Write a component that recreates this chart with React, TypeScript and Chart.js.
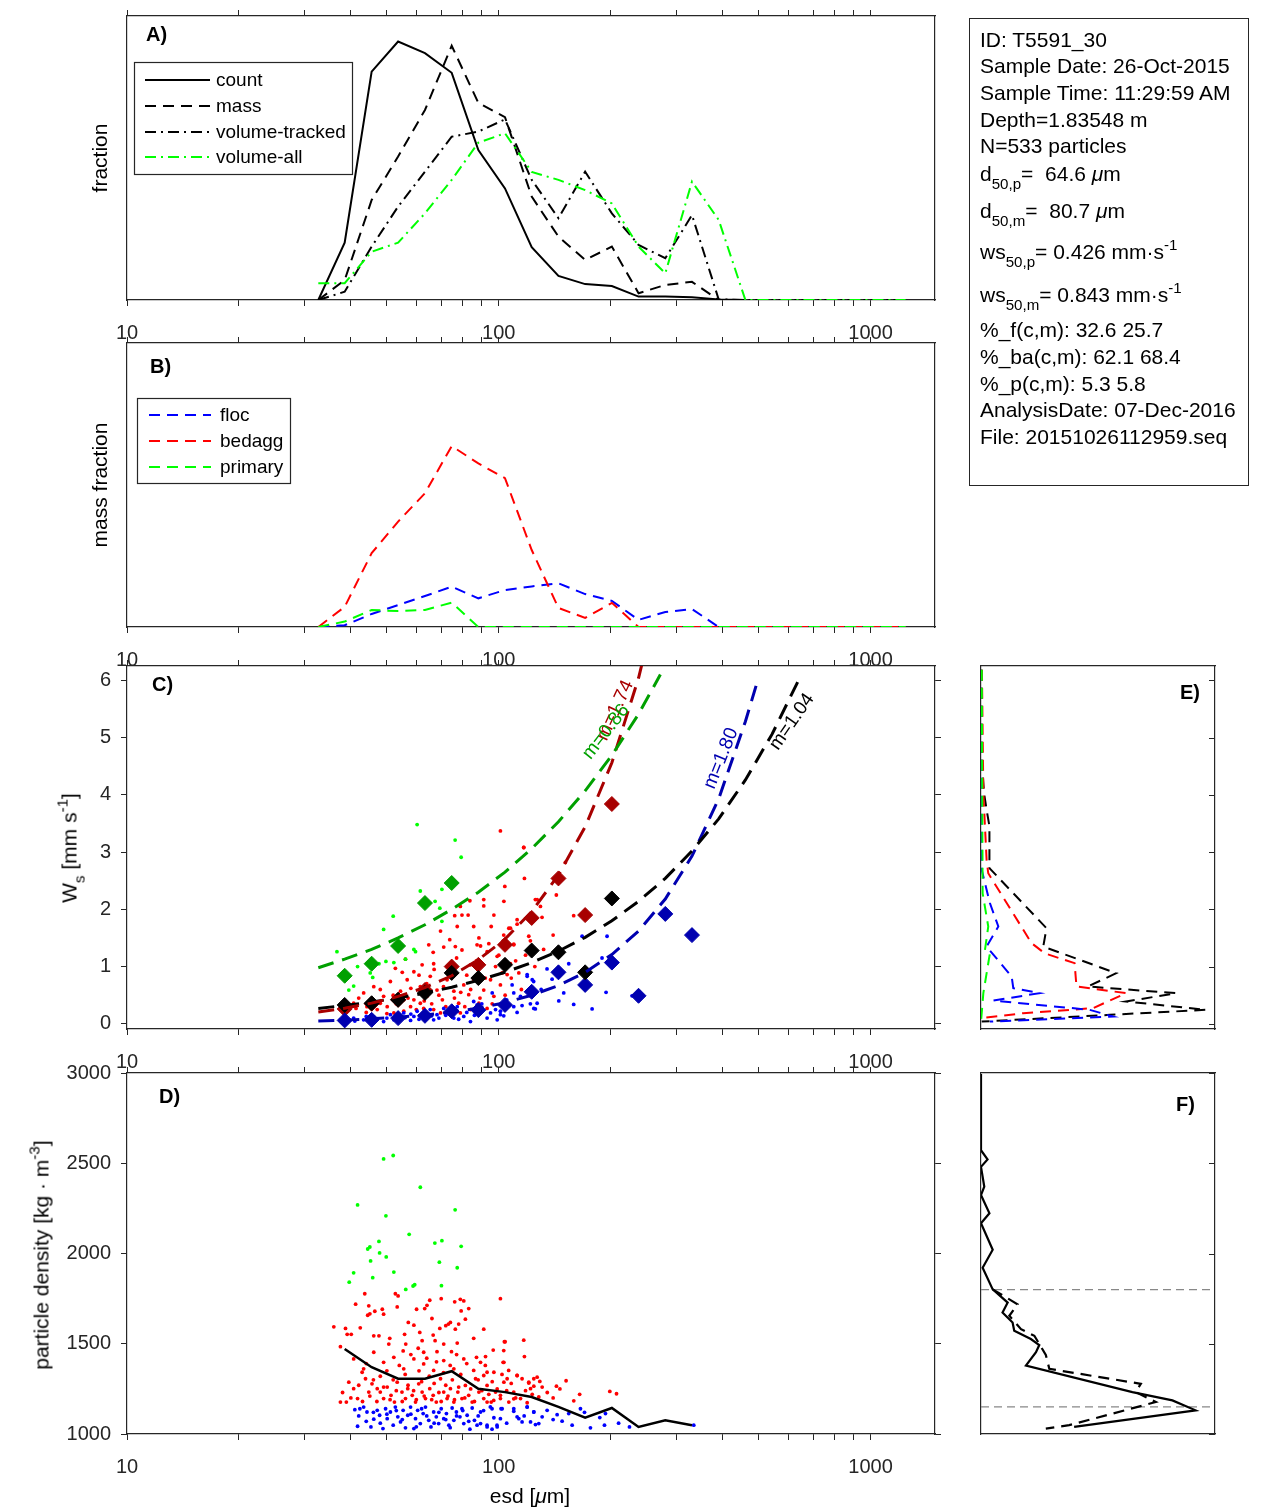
import React, { useEffect, useRef } from "react";
import { Chart, registerables } from "chart.js";

Chart.register(...registerables);

const W = 1270;
const H = 1511;
const FONT = "'Liberation Sans', Arial, Helvetica, sans-serif";
const AX = "#262626";
const C_RED = "#A80000";
const C_GREEN = "#00A000";
const C_BLUE = "#0000B0";

// ---------- axes ----------
const xMin = 10;
const xMax = 1490;
const xTickValues = [10, 20, 30, 40, 50, 60, 70, 80, 90, 100, 200, 300, 400, 500, 600, 700, 800, 900, 1000];
const xLabeledTicks = [10, 100, 1000];
const wsTicks = [0, 1, 2, 3, 4, 5, 6];
const wsMin = -0.09;
const wsMax = 6.25;
const densTicks = [1000, 1500, 2000, 2500, 3000];
const densMin = 1000;
const densMax = 3000;

// ---------- Panels A / B : size-bin distributions ----------
const binEsd = [32.7, 38.5, 45.5, 53.6, 63.3, 74.7, 88.1, 103.9, 122.6, 144.7, 170.7, 201.4, 237.6, 280.4, 330.8, 390.3, 460.5, 543.3, 641.0, 756.3, 892.3, 1052.7, 1242];
const countFrac = [0, 0.202, 0.804, 0.91, 0.869, 0.8, 0.528, 0.393, 0.186, 0.085, 0.056, 0.049, 0.012, 0.012, 0.01, 0.002, 0];
const massFrac = [0, 0.07, 0.352, 0.505, 0.669, 0.895, 0.694, 0.644, 0.364, 0.223, 0.141, 0.188, 0.024, 0.053, 0.064, 0];
const volTrackedFrac = [0, 0.029, 0.188, 0.329, 0.452, 0.575, 0.593, 0.636, 0.423, 0.288, 0.452, 0.305, 0.194, 0.147, 0.299, 0.002, 0, 0, 0, 0, 0, 0, 0];
const volAllFrac = [0.059, 0.059, 0.17, 0.202, 0.305, 0.423, 0.554, 0.587, 0.451, 0.423, 0.387, 0.34, 0.188, 0.094, 0.417, 0.282, 0, 0, 0, 0, 0, 0, 0];
const flocMassFrac = [0, 0.006, 0.046, 0.077, 0.109, 0.142, 0.101, 0.13, 0.143, 0.154, 0.116, 0.092, 0.025, 0.053, 0.063, 0, 0, 0, 0, 0, 0, 0, 0];
const bedaggMassFrac = [0, 0.071, 0.26, 0.371, 0.471, 0.637, 0.576, 0.524, 0.271, 0.067, 0.032, 0.085, 0, 0, 0, 0, 0, 0, 0, 0, 0, 0, 0];
const primaryMassFrac = [0, 0.019, 0.06, 0.056, 0.06, 0.086, 0, 0, 0, 0, 0, 0, 0, 0, 0, 0, 0, 0, 0, 0, 0, 0, 0];

// ---------- Panel C : settling velocity ----------
const wsFlocBinMean = [0.06, 0.07, 0.1, 0.14, 0.22, 0.24, 0.33, 0.56, 0.9, 0.68, 1.07, 0.49, 1.92, 1.55];
const wsBedaggBinMean = [0.26, 0.35, 0.42, 0.59, 1.0, 1.03, 1.38, 1.85, 2.54, 1.9, 3.84];
const wsAllBinMean = [0.33, 0.36, 0.42, 0.54, 0.89, 0.8, 1.03, 1.28, 1.25, 0.9, 2.19];
const wsPrimaryBinMean = [0.84, 1.05, 1.36, 2.11, 2.46];

const fitFlocWs = [0.05, 0.065, 0.087, 0.115, 0.155, 0.205, 0.275, 0.37, 0.5, 0.67, 0.9, 1.21, 1.62, 2.18, 2.93, 3.93, 5.28];
const fitFlocEnd = [497, 6.0];
const fitBedaggWs = [0.206, 0.273, 0.362, 0.479, 0.635, 0.84, 1.12, 1.48, 1.96, 2.6, 3.44, 4.56, 6.04];
const fitBedaggEnd = [243, 6.3];
const fitAllWs = [0.27, 0.321, 0.381, 0.453, 0.538, 0.639, 0.759, 0.902, 1.07, 1.27, 1.51, 1.8, 2.14, 2.54, 3.02, 3.58, 4.26, 5.06, 6.01];
const fitAllEnd = [648, 6.07];
const fitPrimaryWs = [0.98, 1.13, 1.3, 1.5, 1.73, 2.0, 2.3, 2.65, 3.06, 3.53, 4.07, 4.69, 5.41];
const fitPrimaryEnd = [272, 6.1];

const cGreenDots = [[36.7, 1.26], [39.5, 0.59], [40.7, 0.66], [41.7, 1.0], [45.1, 0.89], [45.8, 0.81], [49.0, 1.65], [52.0, 1.88], [49.7, 1.09], [52.2, 1.07], [56.1, 1.13], [59.1, 1.3], [59.7, 1.26], [60.3, 3.48], [61.5, 2.32], [67.4, 2.14], [69.4, 2.02], [70.3, 2.35], [70.3, 1.79], [76.3, 3.21], [79.2, 2.91], [47.6, 1.05], [44.7, 1.03]];
const cRedDots = [
  [101.0, 3.37], [116.7, 3.08], [117.2, 2.54], [103.8, 2.4], [103.2, 2.14], [91.1, 2.17], [91.1, 2.06], [83.6, 2.15], [78.8, 2.05], [79.6, 1.9], [76.1, 1.89], [82.7, 1.9], [97.0, 1.9], [77.3, 1.7], [85.6, 1.7], [95.4, 1.7], [106.4, 1.67], [112.0, 1.74], [69.7, 1.62], [73.8, 1.47], [76.4, 1.35], [88.4, 1.5], [87.4, 1.38], [89.3, 1.36], [93.0, 1.26], [99.0, 1.18], [109.7, 1.38], [120.4, 1.53], [126.8, 2.17], [64.8, 1.38], [66.6, 1.25], [71.1, 1.34], [79.6, 1.29], [56.1, 1.13], [52.7, 0.97], [59.1, 0.91], [62.2, 1.03], [66.8, 1.05], [83.9, 1.03], [98.0, 1.0], [102.1, 0.89], [113.2, 0.89], [107.5, 1.05],
  [40.7, 0.36], [43.3, 0.54], [46.1, 0.65], [49.0, 0.48], [51.1, 0.74], [54.4, 0.57], [56.7, 0.77], [57.9, 0.3], [61.5, 0.65], [64.1, 0.48], [65.4, 0.83], [68.2, 0.59], [70.5, 0.42], [72.6, 0.77], [75.7, 0.57], [78.0, 0.36], [80.5, 0.68], [83.0, 0.51], [85.6, 0.77], [88.4, 0.36], [91.1, 0.59], [95.0, 0.77], [97.0, 0.48], [101.0, 0.68], [105.3, 0.86], [44.2, 0.3], [47.1, 0.25], [50.1, 0.3], [52.2, 0.19], [55.5, 0.22], [59.1, 0.42], [62.8, 0.27], [66.8, 0.25], [74.1, 0.27], [78.8, 0.19], [83.9, 0.25], [48.0, 0.36], [41.3, 0.27], [39.1, 0.33], [55.5, 0.42], [61.5, 0.36], [69.7, 0.19], [93.0, 0.27],
  [116.7, 3.08], [129.4, 2.05], [130.7, 1.86], [125.4, 2.17], [151.0, 2.82], [142.8, 2.25], [159.0, 1.89], [121.6, 1.45], [109.7, 1.39], [107.5, 1.67], [103.1, 1.55], [112.0, 1.82],
  [42, 0.45], [44, 0.2], [46, 0.4], [48, 0.6], [50, 0.18], [52, 0.5], [53, 0.35], [55, 0.9], [57, 0.45], [58, 0.62], [60, 0.25], [61, 0.85], [63, 0.4], [64, 0.7], [66, 0.35], [67, 0.95], [69, 0.5], [71, 0.65], [72, 0.3], [74, 0.9], [76, 0.45], [77, 1.15], [79, 0.55], [81, 0.3], [82, 0.85], [84, 0.6], [87, 1.1], [89, 0.45], [92, 0.8], [94, 1.4], [96, 0.35], [100, 1.2], [104, 0.5], [108, 0.8], [111, 1.1], [115, 0.6], [118, 1.2], [125, 1.0], [132, 1.3], [140, 1.55]
];
const cBlueDots = [
  [37.5, 0.07], [40.7, 0.1], [43.3, 0.07], [46.1, 0.12], [49.0, 0.04], [51.1, 0.16], [53.3, 0.08], [55.5, 0.19], [57.9, 0.06], [60.3, 0.22], [62.8, 0.12], [65.4, 0.25], [68.2, 0.16], [71.1, 0.27], [74.1, 0.19], [77.3, 0.3], [80.5, 0.13], [83.9, 0.04], [85.6, 0.39], [89.3, 0.25], [93.0, 0.1], [96.0, 0.54], [99.0, 0.07], [101.0, 0.16], [108.6, 0.68], [109.7, 0.3], [114.4, 0.48], [119.2, 0.86], [124.2, 0.27], [123.0, 0.77], [126.8, 0.36], [46.1, 0.04], [59.1, 0.13], [66.8, 0.07], [75.7, 0.1], [52.2, 0.07], [87.4, 0.33], [95.0, 0.19],
  [167.5, 1.53], [195.5, 1.53], [154.2, 1.05], [189.5, 1.15], [134.8, 0.96], [119.2, 0.83], [124.1, 0.74], [139.1, 0.78], [149.5, 0.54], [109.7, 0.54], [194.3, 0.55], [228.2, 0.49], [159.0, 0.34], [178.2, 0.26], [125.4, 0.26], [115.5, 0.32], [121.6, 0.35], [103.1, 0.14], [101.0, 0.22],
  [41, 0.05], [44, 0.13], [47, 0.09], [50, 0.1], [53, 0.14], [56, 0.11], [58, 0.17], [61, 0.08], [63, 0.2], [66, 0.14], [69, 0.1], [72, 0.15], [75, 0.24], [78, 0.08], [82, 0.2], [86, 0.15], [90, 0.35], [98, 0.25], [105, 0.42], [112, 0.2], [130, 0.6], [145, 0.4], [170, 0.7]
];

// ---------- Panel D : particle density ----------
const dGreenDots = [[49.0, 2524], [52.0, 2543], [61.5, 2367], [41.7, 2269], [49.7, 2209], [76.3, 2242], [57.4, 2106], [45.0, 2036], [44.4, 2025], [47.6, 2067], [67.3, 2058], [70.3, 2071], [79.2, 2040], [47.8, 2003], [49.8, 1981], [45.2, 1959], [69.2, 1952], [40.7, 1893], [77.3, 1921], [45.8, 1866], [52.2, 1897], [39.6, 1841], [59.4, 1827], [58.8, 1820], [56.2, 1801], [70.1, 1822]];
const dRedDots = [
  [36.0, 1594], [37.5, 1484], [38.7, 1585], [39.1, 1552], [40.1, 1552], [41.2, 1719], [42.4, 1588], [43.6, 1777], [44.4, 1658], [44.7, 1710], [45.0, 1666], [46.4, 1680], [46.1, 1544], [47.6, 1544], [48.6, 1691], [49.0, 1664], [50.6, 1498], [50.9, 1530], [52.7, 1777], [53.6, 1765], [53.3, 1704], [55.3, 1460], [55.8, 1552], [56.2, 1498], [57.1, 1618], [59.1, 1603], [60.1, 1691], [60.7, 1475], [61.3, 1563], [62.2, 1517], [62.8, 1388], [63.2, 1695], [64.1, 1713], [65.2, 1741], [66.1, 1640], [66.6, 1548], [67.4, 1517], [68.2, 1456], [69.4, 1585], [70.0, 1750], [71.1, 1498], [72.0, 1600], [73.2, 1609], [74.1, 1618], [74.6, 1456], [76.1, 1732], [76.4, 1581], [77.3, 1504], [78.0, 1609], [78.8, 1746], [79.2, 1682], [80.5, 1737], [81.3, 1636], [83.0, 1695], [85.6, 1530], [87.1, 1425], [89.3, 1397], [91.1, 1581], [92.1, 1429], [93.0, 1342], [96.6, 1465], [101.0, 1750], [103.2, 1397], [104.0, 1511], [116.7, 1520], [117.2, 1429], [120.4, 1287], [126.8, 1315],
  [37.5, 1177], [38.9, 1177], [39.5, 1287], [40.7, 1251], [41.7, 1196], [42.9, 1342], [43.8, 1306], [44.7, 1232], [45.6, 1278], [47.1, 1251], [48.0, 1232], [49.0, 1196], [50.1, 1260], [51.3, 1214], [52.4, 1177], [53.3, 1287], [54.9, 1232], [56.1, 1196], [56.9, 1251], [58.5, 1214], [59.7, 1177], [60.9, 1278], [62.2, 1232], [63.5, 1196], [65.2, 1251], [66.6, 1214], [67.9, 1177], [69.7, 1306], [71.1, 1232], [72.6, 1196], [74.1, 1251], [75.7, 1177], [77.6, 1232], [79.6, 1196], [81.3, 1269], [83.0, 1214], [84.8, 1177], [86.6, 1306], [88.4, 1232], [91.1, 1196], [93.0, 1269], [95.4, 1177], [98.0, 1232], [101.0, 1196], [103.2, 1287], [106.4, 1177], [109.7, 1232], [114.4, 1196], [121.7, 1251], [128.1, 1205],
  [40.7, 1416], [43.3, 1361], [46.1, 1453], [49.0, 1397], [52.2, 1425], [55.5, 1361], [59.1, 1416], [62.8, 1453], [66.8, 1352], [71.1, 1407], [75.7, 1361], [80.5, 1416], [85.6, 1352], [91.1, 1324], [97.0, 1342], [105.3, 1306], [112.0, 1324], [124.2, 1306],
  [103.5, 1511], [103.1, 1462], [102.7, 1397], [106.3, 1352], [112.0, 1324], [115.5, 1306], [120.4, 1282], [124.2, 1265], [128.9, 1291], [130.8, 1260], [142.9, 1265], [151.7, 1295], [159.1, 1184], [198.9, 1236], [207.3, 1223], [119.2, 1173], [109.7, 1195], [101.0, 1214], [96.9, 1186], [93.0, 1177],
  [38, 1230], [40, 1200], [42, 1270], [43, 1180], [44, 1390], [45, 1210], [46, 1300], [47, 1180], [48, 1320], [49, 1260], [50, 1350], [51, 1190], [52, 1300], [53, 1240], [54, 1380], [55, 1180], [56, 1330], [57, 1270], [58, 1440], [59, 1240], [60, 1190], [61, 1350], [62, 1290], [63, 1210], [64, 1420], [65, 1320], [66, 1190], [67, 1280], [68, 1400], [69, 1230], [70, 1180], [71, 1340], [72, 1270], [73, 1210], [74, 1380], [75, 1300], [76, 1190], [77, 1440], [78, 1260], [79, 1330], [81, 1200], [82, 1390], [84, 1250], [86, 1180], [88, 1300], [90, 1240], [92, 1380], [94, 1220], [96, 1290], [99, 1250], [102, 1330], [105, 1240], [108, 1280], [111, 1200], [118, 1240], [123, 1220], [135, 1230], [140, 1200], [146, 1250], [165, 1220]
];
const dBlueDots = [
  [41.7, 1043], [41.0, 1135], [42.3, 1140], [43.3, 1149], [44.2, 1122], [45.3, 1039], [46.1, 1082], [47.1, 1131], [47.8, 1104], [48.8, 1030], [49.6, 1140], [50.1, 1085], [51.1, 1122], [52.0, 1049], [52.7, 1149], [53.5, 1095], [54.4, 1067], [55.3, 1131], [56.1, 1034], [56.9, 1104], [57.9, 1149], [59.1, 1030], [59.7, 1085], [60.5, 1131], [61.5, 1058], [62.6, 1113], [63.5, 1149], [64.8, 1076], [65.7, 1039], [66.8, 1122], [67.9, 1095], [68.9, 1058], [70.0, 1140], [71.1, 1085], [72.3, 1113], [73.4, 1049], [74.9, 1144], [75.7, 1076], [76.9, 1122], [78.6, 1095], [79.6, 1140], [80.5, 1058], [82.2, 1104], [83.6, 1027], [84.8, 1144], [86.0, 1076], [87.4, 1049], [89.3, 1122], [93.0, 1049], [95.9, 1140], [99.0, 1039], [101.0, 1085], [102.1, 1140], [109.7, 1126], [113.2, 1085], [119.2, 1149], [124.2, 1122], [128.1, 1058],
  [94.9, 1150], [101.4, 1140], [109.7, 1140], [119.2, 1150], [124.2, 1122], [134.9, 1131], [143.5, 1107], [154.2, 1113], [165.8, 1140], [176.4, 1034], [186.9, 1091], [192.4, 1049], [193.6, 1113], [224.6, 1039], [334.5, 1049], [89.3, 1058], [93.0, 1039], [95.9, 1027], [98.9, 1049], [112.0, 1095], [121.7, 1067], [130.8, 1095], [148.0, 1071], [157.5, 1049], [115.5, 1067], [125.5, 1052],
  [42, 1100], [44, 1070], [46, 1120], [48, 1060], [50, 1110], [53, 1130], [55, 1080], [58, 1110], [60, 1040], [62, 1140], [64, 1100], [67, 1060], [69, 1120], [72, 1080], [74, 1035], [77, 1100], [80, 1130], [83, 1070], [88, 1100], [91, 1130], [97, 1090], [105, 1060], [117, 1100], [140, 1080], [170, 1120], [210, 1060]
];
const densBinMean = [1471, 1370, 1306, 1306, 1348, 1251, 1232, 1205, 1150, 1091, 1144, 1039, 1076, 1049];

// ---------- Panel E : Ws distributions (fraction, Ws) ----------
const eAll = [[0.003, 6.5], [0.003, 4.61], [0.013, 4.03], [0.024, 3.74], [0.036, 3.45], [0.036, 2.92], [0.036, 2.72], [0.28, 1.67], [0.266, 1.35], [0.578, 0.885], [0.457, 0.652], [0.834, 0.536], [0.62, 0.39], [0.962, 0.245], [0.55, 0.157], [0.003, 0.04]];
const eBedagg = [[0.003, 6.5], [0.01, 4.03], [0.024, 2.86], [0.031, 2.63], [0.216, 1.41], [0.273, 1.23], [0.4, 1.06], [0.408, 0.652], [0.62, 0.536], [0.479, 0.274], [0.18, 0.186], [0.003, 0.1]];
const eFloc = [[0.0, 6.5], [0.003, 2.69], [0.038, 2.11], [0.074, 1.7], [0.024, 1.35], [0.131, 0.827], [0.138, 0.623], [0.251, 0.536], [0.053, 0.407], [0.464, 0.245], [0.564, 0.128], [0.038, 0.04]];
const ePrimary = [[0.003, 6.5], [0.007, 2.28], [0.031, 1.7], [0.017, 1.29], [0.038, 1.23], [0.01, 0.536], [0.0, 0.04]];

// ---------- Panel F : density distributions (fraction, density) ----------
const fCount = [[0, 2994], [0, 2572], [0.028, 2521], [0, 2480], [0.014, 2370], [0, 2324], [0.036, 2223], [0, 2168], [0.05, 2021], [0.007, 1921], [0.05, 1801], [0.114, 1728], [0.092, 1673], [0.135, 1618], [0.142, 1572], [0.213, 1526], [0.249, 1493], [0.235, 1453], [0.192, 1379], [0.647, 1232], [0.818, 1186], [0.917, 1131], [0.398, 1039]];
const fMass = [[0.05, 1801], [0.156, 1719], [0.121, 1655], [0.171, 1581], [0.228, 1544], [0.277, 1438], [0.292, 1361], [0.683, 1278], [0.661, 1232], [0.747, 1177], [0.377, 1049], [0.277, 1030]];
const fThresholds = [1150, 1800];

// ---------- helpers ----------
const AXL = 90, AXR = 10, AXT = 10, AXB = 55;
type Box = { l: number; t: number; r: number; b: number };
const boxA: Box = { l: 127, t: 16, r: 935, b: 300 };
const boxB: Box = { l: 127, t: 343, r: 935, b: 627 };
const boxC: Box = { l: 127, t: 666, r: 935, b: 1029 };
const boxD: Box = { l: 127, t: 1073, r: 935, b: 1434 };
const boxE: Box = { l: 981, t: 666, r: 1215, b: 1029 };
const boxF: Box = { l: 981, t: 1073, r: 1215, b: 1434 };

const pts = (xs: number[], ys: number[]) => ys.map((y, i) => ({ x: xs[i], y }));
const pairs = (a: number[][]) => a.map(([x, y]) => ({ x, y }));
const border = { display: true, color: AX, width: 1.2 };
const tickFont = { family: FONT, size: 20 };
const grid = (ticks: boolean) => ({ display: true, drawOnChartArea: false, drawTicks: ticks, tickLength: 6, color: AX, tickColor: AX, tickWidth: 1 });

function logX(position: "top" | "bottom", ticks: boolean, labels: boolean) {
  return {
    type: "logarithmic", axis: "x", position, min: xMin, max: xMax,
    afterFit: (s: any) => { s.height = position === "top" ? AXT : AXB; },
    afterBuildTicks: (s: any) => { s.ticks = xTickValues.map((v) => ({ value: v })); },
    grid: grid(ticks), border,
    ticks: {
      display: labels, autoSkip: false, maxRotation: 0, minRotation: 0, padding: 15, color: AX, font: tickFont,
      callback: (v: any) => (xLabeledTicks.includes(Number(v)) ? String(v) : ""),
    },
  };
}
function linX(position: "top" | "bottom") {
  return {
    type: "linear", axis: "x", position, min: 0, max: 1,
    afterFit: (s: any) => { s.height = position === "top" ? AXT : AXB; },
    grid: grid(false), border, ticks: { display: false },
  };
}
function linY(position: "left" | "right", min: number, max: number, tickVals: number[] | null, labels: boolean) {
  return {
    type: "linear", axis: "y", position, min, max,
    afterFit: (s: any) => { s.width = position === "left" ? AXL : AXR; },
    afterBuildTicks: (s: any) => { s.ticks = (tickVals || []).map((v) => ({ value: v })); },
    grid: grid(!!tickVals), border,
    ticks: { display: labels, padding: 10, color: AX, font: tickFont, includeBounds: false, callback: (v: any) => String(v) },
  };
}
function baseOptions(box: Box, scales: any) {
  return {
    responsive: false, animation: false, events: [],
    layout: { padding: { left: box.l - AXL, right: W - box.r - AXR, top: box.t - AXT, bottom: H - box.b - AXB } },
    plugins: { legend: { display: false }, tooltip: { enabled: false }, title: { display: false } },
    scales,
  };
}
const lineDs = (data: any[], color: string, dash: number[], width = 2, order = 1) => ({
  data, showLine: true, borderColor: color, backgroundColor: color, borderWidth: width, borderDash: dash,
  pointRadius: 0, fill: false, tension: 0, order, borderCapStyle: "butt", borderJoinStyle: "miter",
});
const dotDs = (data: any[], color: string, order = 5) => ({
  data, showLine: false, pointRadius: 1.9, pointBackgroundColor: color, pointBorderWidth: 0, pointBorderColor: color, order,
});
const diamondDs = (data: any[], color: string, order = 3) => ({
  data, showLine: false, pointStyle: "rectRot", pointRadius: 7.5, pointBackgroundColor: color, pointBorderColor: color, pointBorderWidth: 1, order,
});

const DASH = [11, 7];
const DASHDOT = [11, 5, 2, 5];

function legendPlugin(id: string, cfg: any) {
  return {
    id,
    afterDraw(chart: any) {
      const ctx = chart.ctx;
      ctx.save();
      ctx.fillStyle = "#fff";
      ctx.fillRect(cfg.x0, cfg.y0, cfg.x1 - cfg.x0, cfg.y1 - cfg.y0);
      ctx.strokeStyle = AX; ctx.lineWidth = 1.2; ctx.setLineDash([]);
      ctx.strokeRect(cfg.x0 + 0.5, cfg.y0 + 0.5, cfg.x1 - cfg.x0, cfg.y1 - cfg.y0);
      cfg.items.forEach((it: any, i: number) => {
        const y = cfg.rows[i];
        ctx.strokeStyle = it.color; ctx.lineWidth = 2; ctx.setLineDash(it.dash);
        ctx.beginPath(); ctx.moveTo(cfg.lx0, y); ctx.lineTo(cfg.lx1, y); ctx.stroke();
        ctx.setLineDash([]);
        ctx.fillStyle = "#000"; ctx.font = `19px ${FONT}`; ctx.textBaseline = "middle"; ctx.textAlign = "left";
        ctx.fillText(it.label, cfg.tx, y + 1);
      });
      ctx.restore();
    },
  };
}
const innerTicks = (vals: number[]) => ({
  id: "innerTicks",
  afterDraw(chart: any) {
    const { ctx, chartArea } = chart;
    const s = chart.scales.y;
    ctx.save(); ctx.strokeStyle = AX; ctx.lineWidth = 1;
    vals.forEach((v) => {
      const y = Math.round(s.getPixelForValue(v)) + 0.5;
      ctx.beginPath(); ctx.moveTo(chartArea.right, y); ctx.lineTo(chartArea.right - 6, y); ctx.stroke();
    });
    ctx.restore();
  },
});

// ---------- chart configs ----------
const makeA = () => ({
  type: "scatter",
  data: {
    datasets: [
      lineDs(pts(binEsd, volAllFrac), "#00FF00", DASHDOT, 2, 0),
      lineDs(pts(binEsd, countFrac), "#000", [], 2, 1),
      lineDs(pts(binEsd, massFrac), "#000", DASH, 2, 2),
      lineDs(pts(binEsd, volTrackedFrac), "#000", DASHDOT, 2, 3),
    ],
  },
  options: baseOptions(boxA, {
    x: logX("bottom", true, true), x2: logX("top", true, false),
    y: linY("left", 0, 1, null, false), y2: linY("right", 0, 1, null, false),
  }),
  plugins: [legendPlugin("legA", {
    x0: 134, y0: 62, x1: 352, y1: 174, lx0: 145, lx1: 210, tx: 216, rows: [80, 106, 132, 157],
    items: [
      { label: "count", color: "#000", dash: [] },
      { label: "mass", color: "#000", dash: DASH },
      { label: "volume-tracked", color: "#000", dash: DASHDOT },
      { label: "volume-all", color: "#00FF00", dash: DASHDOT },
    ],
  })],
});

const makeB = () => ({
  type: "scatter",
  data: {
    datasets: [
      lineDs(pts(binEsd, flocMassFrac), "#0000FF", DASH, 2, 2),
      lineDs(pts(binEsd, bedaggMassFrac), "#FF0000", DASH, 2, 1),
      lineDs(pts(binEsd, primaryMassFrac), "#00FF00", DASH, 2, 0),
    ],
  },
  options: baseOptions(boxB, {
    x: logX("bottom", true, true), x2: logX("top", true, false),
    y: linY("left", 0, 1, null, false), y2: linY("right", 0, 1, null, false),
  }),
  plugins: [legendPlugin("legB", {
    x0: 137, y0: 398, x1: 290, y1: 483, lx0: 149, lx1: 211, tx: 220, rows: [415, 441, 467],
    items: [
      { label: "floc", color: "#0000FF", dash: DASH },
      { label: "bedagg", color: "#FF0000", dash: DASH },
      { label: "primary", color: "#00FF00", dash: DASH },
    ],
  })],
});

const fitDash = [16, 9];
const makeC = () => ({
  type: "scatter",
  data: {
    datasets: [
      dotDs(pairs(cRedDots), "#FF0000", 7),
      dotDs(pairs(cBlueDots), "#0000FF", 6),
      dotDs(pairs(cGreenDots), "#00FF00", 5),
      diamondDs(pts(binEsd.slice(1), wsPrimaryBinMean), C_GREEN, 4),
      diamondDs(pts(binEsd.slice(1), wsBedaggBinMean), C_RED, 4),
      diamondDs(pts(binEsd.slice(1), wsAllBinMean), "#000", 3),
      diamondDs(pts(binEsd.slice(1), wsFlocBinMean), C_BLUE, 3),
      lineDs([...pts(binEsd, fitPrimaryWs), { x: fitPrimaryEnd[0], y: fitPrimaryEnd[1] }], C_GREEN, fitDash, 3, 1),
      lineDs([...pts(binEsd, fitBedaggWs), { x: fitBedaggEnd[0], y: fitBedaggEnd[1] }], C_RED, fitDash, 3, 1),
      lineDs([...pts(binEsd, fitAllWs), { x: fitAllEnd[0], y: fitAllEnd[1] }], "#000", fitDash, 3, 1),
      lineDs([...pts(binEsd, fitFlocWs), { x: fitFlocEnd[0], y: fitFlocEnd[1] }], C_BLUE, fitDash, 3, 1),
    ],
  },
  options: baseOptions(boxC, {
    x: logX("bottom", true, true), x2: logX("top", true, false),
    y: linY("left", wsMin, wsMax, wsTicks, true), y2: linY("right", wsMin, wsMax, wsTicks, false),
  }),
});

const makeD = () => ({
  type: "scatter",
  data: {
    datasets: [
      dotDs(pairs(dRedDots), "#FF0000", 7),
      dotDs(pairs(dBlueDots), "#0000FF", 6),
      dotDs(pairs(dGreenDots), "#00FF00", 5),
      lineDs(pts(binEsd.slice(1), densBinMean), "#000", [], 2.5, 1),
    ],
  },
  options: baseOptions(boxD, {
    x: logX("bottom", true, true), x2: logX("top", true, false),
    y: linY("left", densMin, densMax, densTicks, true), y2: linY("right", densMin, densMax, densTicks, false),
  }),
});

const makeE = () => ({
  type: "scatter",
  data: {
    datasets: [
      lineDs(pairs(ePrimary), "#00FF00", DASH, 2, 0),
      lineDs(pairs(eFloc), "#0000FF", DASH, 2, 1),
      lineDs(pairs(eBedagg), "#FF0000", DASH, 2, 2),
      lineDs(pairs(eAll), "#000", DASH, 2, 3),
    ],
  },
  options: baseOptions(boxE, {
    x: linX("bottom"), x2: linX("top"),
    y: linY("left", wsMin, wsMax, null, false), y2: linY("right", wsMin, wsMax, null, false),
  }),
  plugins: [innerTicks(wsTicks)],
});

const makeF = () => ({
  type: "scatter",
  data: {
    datasets: [
      lineDs(pairs(fCount), "#000", [], 2.2, 1),
      lineDs(pairs(fMass), "#000", DASH, 2.2, 2),
      ...fThresholds.map((v) => lineDs([{ x: 0, y: v }, { x: 1, y: v }], "#888", [8, 5], 1.2, 3)),
    ],
  },
  options: baseOptions(boxF, {
    x: linX("bottom"), x2: linX("top"),
    y: linY("left", densMin, densMax, null, false), y2: linY("right", densMin, densMax, null, false),
  }),
  plugins: [innerTicks(densTicks)],
});

function ChartCanvas({ make }: { make: () => any }) {
  const ref = useRef<HTMLCanvasElement>(null);
  useEffect(() => {
    const chart = new Chart(ref.current as HTMLCanvasElement, make());
    return () => chart.destroy();
  }, []);
  return (
    <canvas ref={ref} width={W} height={H}
      style={{ position: "absolute", left: 0, top: 0, width: W, height: H, pointerEvents: "none" }} />
  );
}

// ---------- text ----------
type Seg = { t: string; sub?: boolean; sup?: boolean; it?: boolean };
const infoRows: { y: number; parts: Seg[] }[] = [
  { y: 39.3, parts: [{ t: "ID: T5591_30" }] },
  { y: 66, parts: [{ t: "Sample Date: 26-Oct-2015" }] },
  { y: 92.7, parts: [{ t: "Sample Time: 11:29:59 AM" }] },
  { y: 119.3, parts: [{ t: "Depth=1.83548 m" }] },
  { y: 146, parts: [{ t: "N=533 particles" }] },
  { y: 173.7, parts: [{ t: "d" }, { t: "50,p", sub: true }, { t: "=  64.6 " }, { t: "μ", it: true }, { t: "m" }] },
  { y: 210.3, parts: [{ t: "d" }, { t: "50,m", sub: true }, { t: "=  80.7 " }, { t: "μ", it: true }, { t: "m" }] },
  { y: 251.7, parts: [{ t: "ws" }, { t: "50,p", sub: true }, { t: "= 0.426 mm·s" }, { t: "-1", sup: true }] },
  { y: 295, parts: [{ t: "ws" }, { t: "50,m", sub: true }, { t: "= 0.843 mm·s" }, { t: "-1", sup: true }] },
  { y: 330, parts: [{ t: "%_f(c,m): 32.6 25.7" }] },
  { y: 356.7, parts: [{ t: "%_ba(c,m): 62.1 68.4" }] },
  { y: 383.3, parts: [{ t: "%_p(c,m): 5.3 5.8" }] },
  { y: 410, parts: [{ t: "AnalysisDate: 07-Dec-2016" }] },
  { y: 436.7, parts: [{ t: "File: 20151026112959.seq" }] },
];
const panelLetters = [
  { t: "A)", x: 146, y: 34 }, { t: "B)", x: 150, y: 366 }, { t: "C)", x: 152, y: 684 },
  { t: "D)", x: 159, y: 1096 }, { t: "E)", x: 1180, y: 692 }, { t: "F)", x: 1176, y: 1104 },
];
const mLabels = [
  { t: "m=1.74", color: C_RED, x: 614, y: 710, a: -65 },
  { t: "m=0.86", color: C_GREEN, x: 605, y: 731, a: -52 },
  { t: "m=1.80", color: C_BLUE, x: 720, y: 758, a: -68 },
  { t: "m=1.04", color: "#000", x: 791, y: 721, a: -55 },
];

function Segs({ parts, size }: { parts: Seg[]; size: number }) {
  return (
    <>
      {parts.map((p, i) => {
        if (p.sub) return <span key={i} style={{ fontSize: size * 0.72, position: "relative", top: size * 0.38 }}>{p.t}</span>;
        if (p.sup) return <span key={i} style={{ fontSize: size * 0.72, position: "relative", top: -size * 0.42 }}>{p.t}</span>;
        if (p.it) return <span key={i} style={{ fontStyle: "italic" }}>{p.t}</span>;
        return <span key={i}>{p.t}</span>;
      })}
    </>
  );
}

const rot = (x: number, y: number, a: number, size: number, color = "#000"): React.CSSProperties => ({
  position: "absolute", left: x, top: y, transform: `translate(-50%, -50%) rotate(${a}deg)`,
  whiteSpace: "pre", fontSize: size, lineHeight: `${size + 4}px`, color, fontFamily: FONT,
});

export default function App() {
  return (
    <div style={{ position: "absolute", left: 0, top: 0, width: W, height: H, background: "#fff", overflow: "hidden", fontFamily: FONT }}>
      <ChartCanvas make={makeA} />
      <ChartCanvas make={makeB} />
      <ChartCanvas make={makeC} />
      <ChartCanvas make={makeD} />
      <ChartCanvas make={makeE} />
      <ChartCanvas make={makeF} />

      {panelLetters.map((p) => (
        <div key={p.t} style={{ position: "absolute", left: p.x, top: p.y - 10, fontSize: 20, lineHeight: "20px", fontWeight: "bold", color: "#000" }}>{p.t}</div>
      ))}
      {mLabels.map((m) => (
        <div key={m.t} style={rot(m.x, m.y, m.a, 19, m.color)}>{m.t}</div>
      ))}

      <div style={rot(99, 158, -90, 21)}>fraction</div>
      <div style={rot(99, 485, -90, 21)}>mass fraction</div>
      <div style={rot(70, 848, -90, 21)}>
        <Segs size={21} parts={[{ t: "W" }, { t: "s", sub: true }, { t: " [mm s" }, { t: "-1", sup: true }, { t: "]" }]} />
      </div>
      <div style={rot(42, 1255, -90, 21)}>
        <Segs size={21} parts={[{ t: "particle density [kg · m" }, { t: "-3", sup: true }, { t: "]" }]} />
      </div>
      <div style={rot(530, 1495, 0, 21)}>
        <Segs size={21} parts={[{ t: "esd [" }, { t: "μ", it: true }, { t: "m]" }]} />
      </div>

      <div style={{ position: "absolute", left: 969, top: 18, width: 280, height: 468, border: `1.3px solid ${AX}`, boxSizing: "border-box" }} />
      {infoRows.map((r, i) => (
        <div key={i} style={{ position: "absolute", left: 980, top: r.y - 11.7, fontSize: 21, lineHeight: "24px", whiteSpace: "pre", color: "#000" }}>
          <Segs size={21} parts={r.parts} />
        </div>
      ))}
    </div>
  );
}
